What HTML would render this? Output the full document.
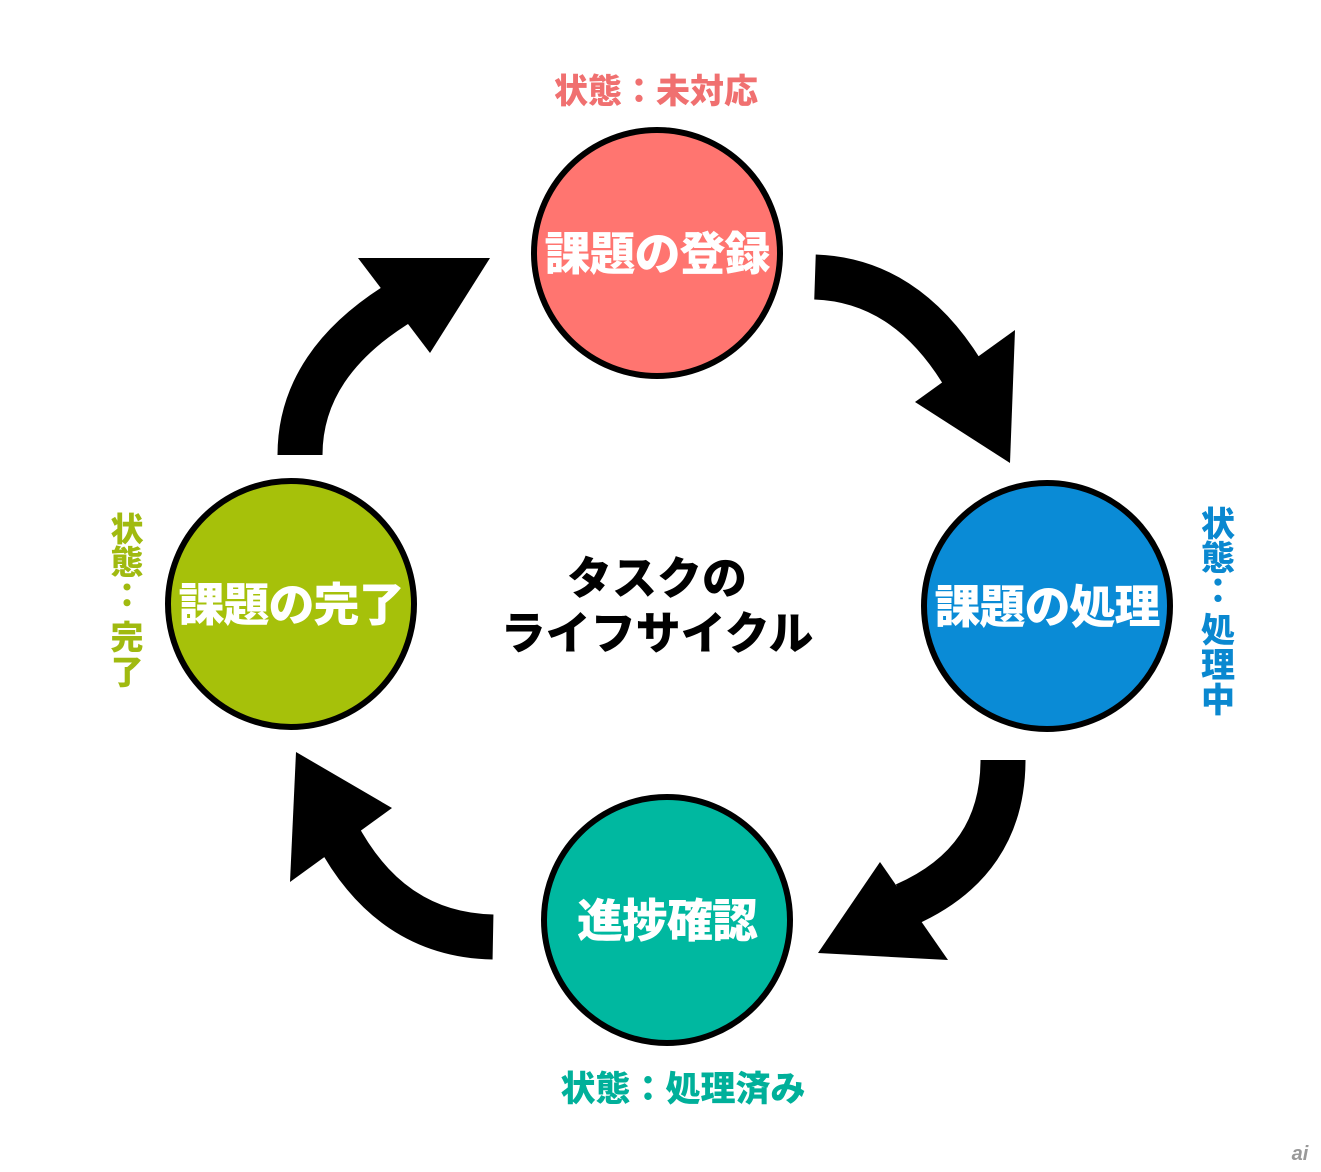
<!DOCTYPE html>
<html><head><meta charset="utf-8"><style>
html,body{margin:0;padding:0;background:#fff;width:1321px;height:1172px;overflow:hidden}
svg{display:block}
text{font-family:"Liberation Sans","Noto Sans CJK JP",sans-serif;font-weight:900}
</style></head><body>
<svg width="1321" height="1172" viewBox="0 0 1321 1172">
<g fill="none" stroke="#000" stroke-width="45">
<path d="M815,277 Q905,280 962,372"/>
<path d="M1003,760 Q1003,862 905,905"/>
<path d="M493,937 Q390,935 336,832"/>
<path d="M300,455 Q300,362 404,300"/>
</g>
<g fill="#000">
<polygon points="915,402 1015,330 1010,463"/>
<polygon points="818,953 880,862 948,960"/>
<polygon points="296,752 290,882 392,808"/>
<polygon points="358,258 490,258 430,353"/>
</g>
<g stroke="#000" stroke-width="6">
<circle cx="657" cy="253" r="123" fill="#ff7570"/>
<circle cx="1047" cy="606" r="123" fill="#0a8bd6"/>
<circle cx="667" cy="920" r="123" fill="#00b8a0"/>
<circle cx="291" cy="604" r="123" fill="#a6c10a"/>
</g>
<g fill="#fff" font-size="46" text-anchor="middle">
<text x="657" y="270" letter-spacing="-1">課題の登録</text>
<text x="1047" y="623" letter-spacing="-1">課題の処理</text>
<text x="667" y="937" letter-spacing="-1">進捗確認</text>
<text x="291" y="621" letter-spacing="-1">課題の完了</text>
</g>
<g fill="#000" font-size="45" text-anchor="middle">
<text x="657" y="594">タスクの</text>
<text x="657" y="649">ライフサイクル</text>
</g>
<text x="656" y="103" font-size="34" fill="#f07070" text-anchor="middle">状態：未対応</text>
<text x="683" y="1101" font-size="35" fill="#00b09a" text-anchor="middle">状態：処理済み</text>
<g font-size="34" fill="#0a88d0" text-anchor="middle">
<text x="1218" y="536">状</text><text x="1218" y="570">態</text><text x="1218" y="603">：</text>
<text x="1218" y="642">処</text><text x="1218" y="677">理</text><text x="1218" y="712">中</text>
</g>
<g font-size="33" fill="#a0ba10" text-anchor="middle">
<text x="127" y="541">状</text><text x="127" y="574">態</text><text x="127" y="607">：</text>
<text x="127" y="649">完</text><text x="127" y="684">了</text>
</g>
<text x="1300" y="1160" font-size="20" fill="#999" font-style="italic" font-weight="400" text-anchor="middle">ai</text>
</svg>
</body></html>
